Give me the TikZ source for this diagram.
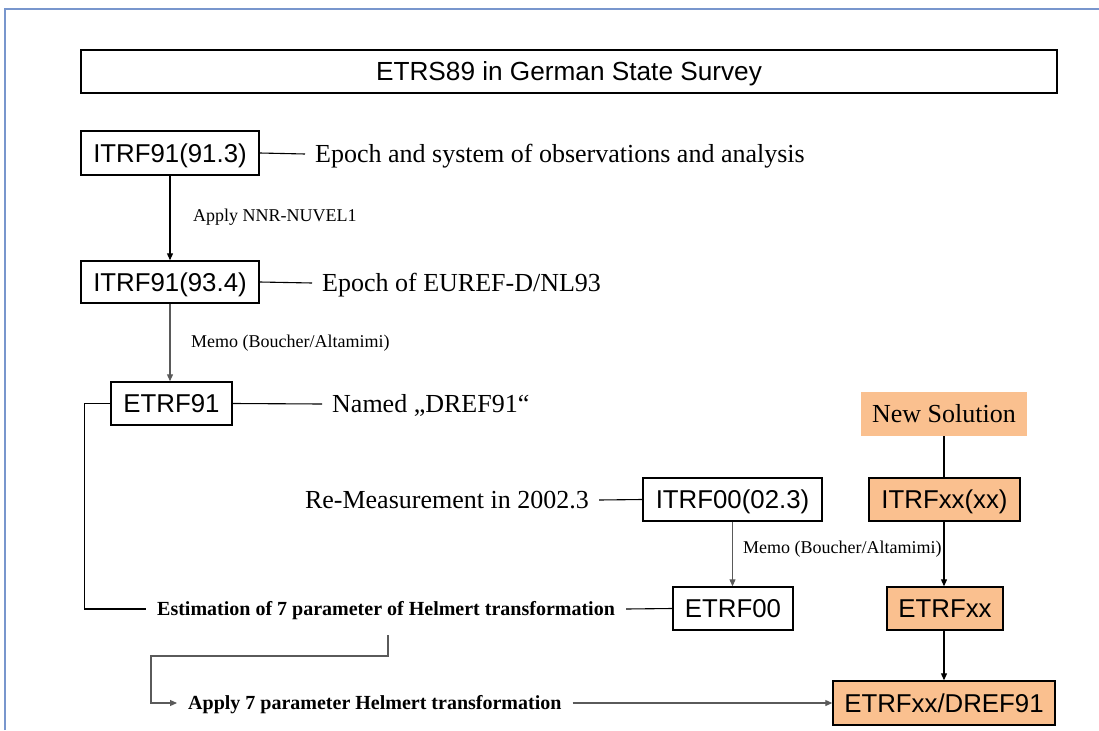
\documentclass[tikz,border=0pt]{standalone}
\usepackage{fontspec}
\setmainfont{Liberation Serif}
\setsansfont{Liberation Sans}
\usetikzlibrary{arrows.meta}
\definecolor{framec}{RGB}{120,150,205}
\definecolor{solfill}{RGB}{250,192,143}
\definecolor{linegray}{RGB}{90,90,90}
\tikzset{
  sysbox/.style={draw=black, line width=1.4pt, inner sep=0pt, text height=18.5pt, text depth=0pt,
                 font=\sffamily\fontsize{25.8}{30}\selectfont},
  newbox/.style={sysbox, fill=solfill},
  note/.style={inner xsep=10pt, inner ysep=0pt, text height=17pt, text depth=0pt,
               font=\rmfamily\fontsize{26}{30}\selectfont},
  bnote/.style={inner xsep=11pt, inner ysep=0pt, text height=13.5pt, text depth=0pt,
                font=\rmfamily\bfseries\fontsize{20}{24}\selectfont},
  steplabel/.style={inner sep=0pt, anchor=west, font=\rmfamily\fontsize{18}{20}\selectfont},
  conn/.style={line width=1.1pt, black},
  gconn/.style={line width=1.1pt, linegray},
  flow/.style={conn, -{Triangle[length=7pt,width=6pt]}},
  gflow/.style={gconn, -{Triangle[length=7pt,width=6pt]}}
}
\begin{document}
\begin{tikzpicture}[x=1pt, y=-1pt]
\useasboundingbox (0,0) rectangle (1099,730);
% outer page frame
\draw[framec, line width=1.5pt] (5,730) -- (5,9) -- (1099,9);

% title
\node[draw=black, line width=1.2pt, minimum width=976pt, minimum height=43pt, inner sep=0pt,
      text height=19pt, text depth=0pt,
      font=\sffamily\fontsize{26.2}{30}\selectfont] (title) at (569,71.5) {ETRS89 in German State Survey};

% left chain
\node[sysbox, minimum width=178pt, minimum height=44pt] (itrfA) at (170,153) {ITRF91(91.3)};
\node[sysbox, minimum width=178pt, minimum height=42pt] (itrfB) at (170,282) {ITRF91(93.4)};
\node[sysbox, minimum width=121pt, minimum height=43pt] (etrfA) at (171.5,403.5) {ETRF91};

\node[note, anchor=west] (nA) at (305,154) {Epoch and system of observations and analysis};
\node[note, anchor=west] (nB) at (312,283) {Epoch of EUREF-D/NL93};
\node[note, anchor=west] (nC) at (322,404) {Named „DREF91“};

\node[steplabel] (lA) at (193,217) {Apply NNR-NUVEL1};
\node[steplabel] (lB) at (191,343) {Memo (Boucher/Altamimi)};

\draw[flow] (itrfA.south) -- (itrfB.north);
\draw[gflow] (itrfB.south) -- (itrfB.south |- etrfA.north);
\draw[conn] (itrfA.east) -- (nA.west);
\draw[conn] (itrfB.east) -- (nB.west);
\draw[conn] (etrfA.east) -- (nC.west);

% middle chain
\node[sysbox, minimum width=179pt, minimum height=43pt] (itrfC) at (732.5,499.5) {ITRF00(02.3)};
\node[sysbox, minimum width=120pt, minimum height=43pt] (etrfB) at (733,608.5) {ETRF00};
\node[note, anchor=east] (nD) at (599,500) {Re-Measurement in 2002.3};
\node[steplabel] (lC) at (743,549) {Memo (Boucher/Altamimi)};

\draw[conn] (nD.east) -- (itrfC.west);
\draw[gflow] (itrfC.south) -- (itrfC.south |- etrfB.north);

% Helmert estimation and application
\node[bnote, anchor=west] (est) at (146,609) {Estimation of 7 parameter of Helmert transformation};
\node[bnote, anchor=west] (app) at (177,703) {Apply 7 parameter Helmert transformation};
\coordinate (br) at (388,635);

\draw[conn] (etrfA.west) -- ++(-26,0) |- (est.west);
\draw[conn] (est.east) -- (etrfB.west);
\draw[gflow] (br) -- (388,656) -| (151,703) -- (app.west);

% new solution chain
\node[fill=solfill, minimum width=166pt, minimum height=44pt, inner sep=0pt,
      text height=17pt, text depth=0pt,
      font=\rmfamily\fontsize{26}{30}\selectfont] (sol) at (944,414) {New Solution};
\node[newbox, minimum width=151pt, minimum height=43pt] (itrfX) at (944.5,499.5) {ITRFxx(xx)};
\node[newbox, minimum width=116pt, minimum height=43pt] (etrfX) at (945,608.5) {ETRFxx};
\node[newbox, minimum width=222pt, minimum height=44pt] (dref) at (944,703) {ETRFxx/DREF91};

\draw[conn] (sol.south) -- (sol.south |- itrfX.north);
\draw[flow] (sol.south |- itrfX.south) -- (sol.south |- etrfX.north);
\draw[flow] (sol.south |- etrfX.south) -- (sol.south |- dref.north);
\draw[gflow] (app.east) -- (dref.west);
\end{tikzpicture}
\end{document}
